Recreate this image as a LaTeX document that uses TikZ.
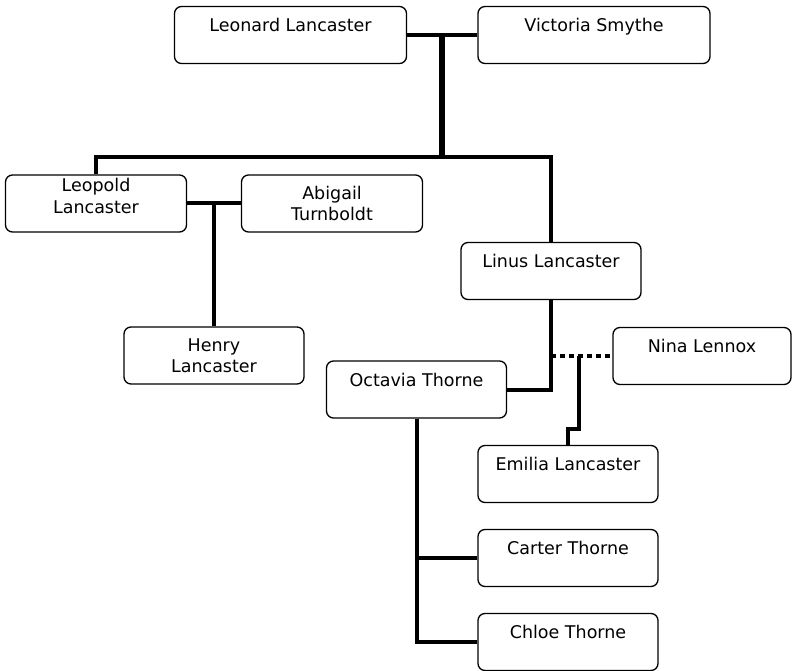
\documentclass[tikz,border=0pt]{standalone}
\usepackage{fontspec}
\setmainfont{DejaVu Sans}
\usetikzlibrary{calc}

\tikzset{
  person/.style={draw, rounded corners=7pt, line width=1.3pt, inner sep=0pt, minimum width=180pt, minimum height=57pt, align=center, font=\fontsize{17.5}{21.5}\selectfont},
  oneline/.style={person, text height=25pt, text depth=32pt},
  wide/.style={minimum width=232pt},
  link/.style={line width=4pt},
  trunk/.style={line width=6pt},
  partner/.style={line width=4pt, dash pattern=on 5pt off 4pt}
}

\begin{document}
\begin{tikzpicture}[x=1pt,y=-1pt]
\useasboundingbox (0,0) rectangle (792,671);

%grandparents
\node[oneline,wide] (leonard) at (290.5,35) {Leonard Lancaster};
\node[oneline,wide] (victoria) at (594,35) {Victoria Smythe};
%children
\node[person,minimum width=181pt] (leopold) at (96,203.5) {Leopold\\Lancaster\\[-6pt]};
\node[person,minimum width=181pt] (abigail) at (332,203.5) {Abigail\\Turnboldt};
\node[person] (henry) at (214,355.5) {Henry\\Lancaster};
\node[oneline] (linus) at (551,271) {Linus Lancaster};
\node[oneline,minimum width=178pt] (nina) at (702,356) {Nina Lennox};
\node[oneline] (octavia) at (416.5,389.5) {Octavia Thorne};
%grandchildren
\node[oneline] (emilia) at (568,474) {Emilia Lancaster};
\node[oneline] (carter) at (568,558) {Carter Thorne};
\node[oneline] (chloe) at (568,642) {Chloe Thorne};

%leonard + victoria
\draw[link] (leonard.east) -- (victoria.west);
\coordinate (top) at ($(leonard.east)!0.5!(victoria.west)$);
\coordinate (kids) at (top |- 0,157);
\draw[trunk] (top) -- (kids);
\draw[link] (leopold.north) |- (kids) -| (linus.north);
%leopold + abigail
\draw[link] (leopold.east) -- (abigail.west);
\coordinate (pair) at ($(leopold.east)!0.5!(abigail.west)$);
\draw[link] (pair) -- (henry.north);
%linus
\draw[link] (linus.south) |- (octavia.east);
\coordinate (split) at (579,356);
\draw[partner] (linus.south |- nina.west) -- (nina.west);
\draw[link] (split) -- ++(0,73) -| (emilia.north);
%octavia
\draw[link] (octavia.south) |- (carter.west);
\draw[link] (octavia.south) |- (chloe.west);

\end{tikzpicture}
\end{document}
